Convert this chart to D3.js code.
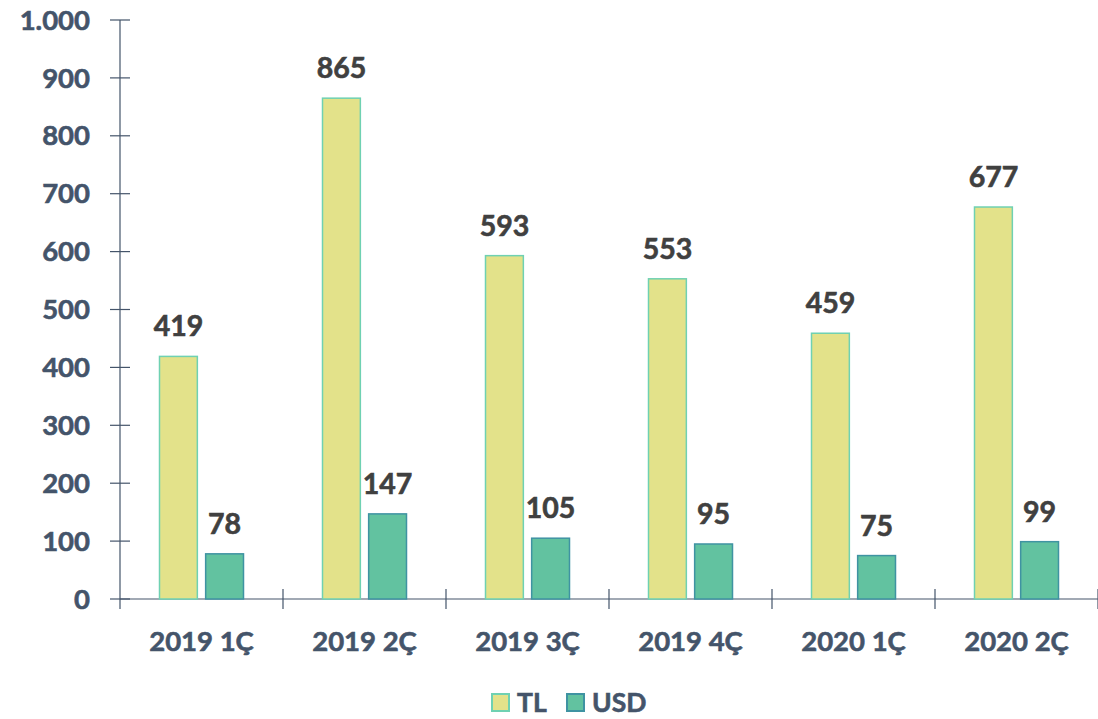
<!DOCTYPE html>
<html>
<head>
<meta charset="utf-8">
<script src="https://cdn.jsdelivr.net/npm/d3@7"></script>
<style>
  body { margin: 0; background: #fff; }
  svg text { font-family: Lato, "Open Sans", sans-serif; font-weight: bold; stroke-width: 0.6; }
</style>
</head>
<body>
<div id="chart"></div>
<script>
// data
var quarters = ["2019 1Ç", "2019 2Ç", "2019 3Ç", "2019 4Ç", "2020 1Ç", "2020 2Ç"];
var tlValues = [419, 865, 593, 553, 459, 677];
var usdValues = [78, 147, 105, 95, 75, 99];
var seriesNames = ["TL", "USD"];
var yTicks = [0, 100, 200, 300, 400, 500, 600, 700, 800, 900, 1000];

var width = 1098, height = 719;
var margin = {left: 120, right: 0, top: 20, bottom: 120};

var fills = {TL: "#e3e28a", USD: "#62c2a0"};
var strokes = {TL: "#6fd1b2", USD: "#3f93a2"};

var svg = d3.select("#chart").append("svg")
  .attr("width", width)
  .attr("height", height);

var x = d3.scaleBand().domain(quarters).range([margin.left, width - margin.right]);
var y = d3.scaleLinear().domain([0, 1000]).range([height - margin.bottom, margin.top]);

var fmt = function(v) { return d3.format(",")(v).replace(/,/g, "."); };

// y axis
var yAxis = svg.append("g").attr("transform", "translate(" + margin.left + ",0)");
yAxis.append("line")
  .attr("x1", 0).attr("x2", 0)
  .attr("y1", y(1000)).attr("y2", y(0))
  .attr("stroke", "#44546a").attr("stroke-width", 1.2);
yAxis.selectAll("line.tick").data(yTicks).enter().append("line")
  .attr("class", "tick")
  .attr("x1", -10).attr("x2", 10)
  .attr("y1", d => y(d)).attr("y2", d => y(d))
  .attr("stroke", "#44546a").attr("stroke-width", 1.2);
yAxis.selectAll("text").data(yTicks).enter().append("text")
  .attr("x", -30).attr("y", d => y(d))
  .attr("dy", "0.35em")
  .attr("text-anchor", "end")
  .attr("font-size", 27.5)
  .attr("fill", "#44546a").attr("stroke", "#44546a")
  .text(fmt);

// x axis
var xAxis = svg.append("g");
xAxis.append("line")
  .attr("x1", margin.left).attr("x2", width)
  .attr("y1", y(0)).attr("y2", y(0))
  .attr("stroke", "#44546a").attr("stroke-width", 1.2);
var bounds = quarters.map(q => x(q)).concat([x(quarters[quarters.length - 1]) + x.bandwidth()]);
xAxis.selectAll("line.tick").data(bounds).enter().append("line")
  .attr("class", "tick")
  .attr("x1", d => d).attr("x2", d => d)
  .attr("y1", (d, i) => i == 0 ? y(0) : y(0) - 10).attr("y2", y(0) + 10)
  .attr("stroke", "#44546a").attr("stroke-width", 1.2);
xAxis.selectAll("text").data(quarters).enter().append("text")
  .attr("x", d => x(d) + x.bandwidth() / 2)
  .attr("y", y(0) + 42)
  .attr("dy", "0.35em")
  .attr("text-anchor", "middle")
  .attr("font-size", 27.5)
  .attr("fill", "#44546a").attr("stroke", "#44546a")
  .text(d => d);

// bars
var x1 = d3.scaleBand().domain(seriesNames).range([0, 84]).paddingInner(0.18);
var rows = [];
quarters.forEach(function(q, i) {
  rows.push({q: q, s: "TL", v: tlValues[i]});
  rows.push({q: q, s: "USD", v: usdValues[i]});
});
var groupOffset = (x.bandwidth() - 84) / 2;

var bars = svg.append("g");
bars.selectAll("rect").data(rows).enter().append("rect")
  .attr("x", d => x(d.q) + groupOffset + x1(d.s))
  .attr("y", d => y(d.v))
  .attr("width", x1.bandwidth())
  .attr("height", d => y(0) - y(d.v))
  .attr("fill", d => fills[d.s])
  .attr("stroke", d => strokes[d.s])
  .attr("stroke-width", 1.5);

bars.selectAll("text").data(rows).enter().append("text")
  .attr("x", d => x(d.q) + groupOffset + x1(d.s) + x1.bandwidth() / 2)
  .attr("y", d => y(d.v) - 20)
  .attr("text-anchor", "middle")
  .attr("font-size", 28.5)
  .attr("fill", "#404040").attr("stroke", "#404040")
  .text(d => d.v);

// legend
var legend = svg.append("g").attr("transform", "translate(492,703)");
var legendItems = [{s: "TL", dx: 0}, {s: "USD", dx: 75}];
legendItems.forEach(function(it) {
  var g = legend.append("g").attr("transform", "translate(" + it.dx + ",0)");
  g.append("rect")
    .attr("x", 0).attr("y", -9)
    .attr("width", 17).attr("height", 17)
    .attr("fill", fills[it.s])
    .attr("stroke", strokes[it.s])
    .attr("stroke-width", 2);
  g.append("text")
    .attr("x", 25).attr("y", 0)
    .attr("dy", "0.35em")
    .attr("font-size", 26.5)
    .attr("fill", "#44546a").attr("stroke", "#44546a")
    .text(it.s);
});
</script>
</body>
</html>
